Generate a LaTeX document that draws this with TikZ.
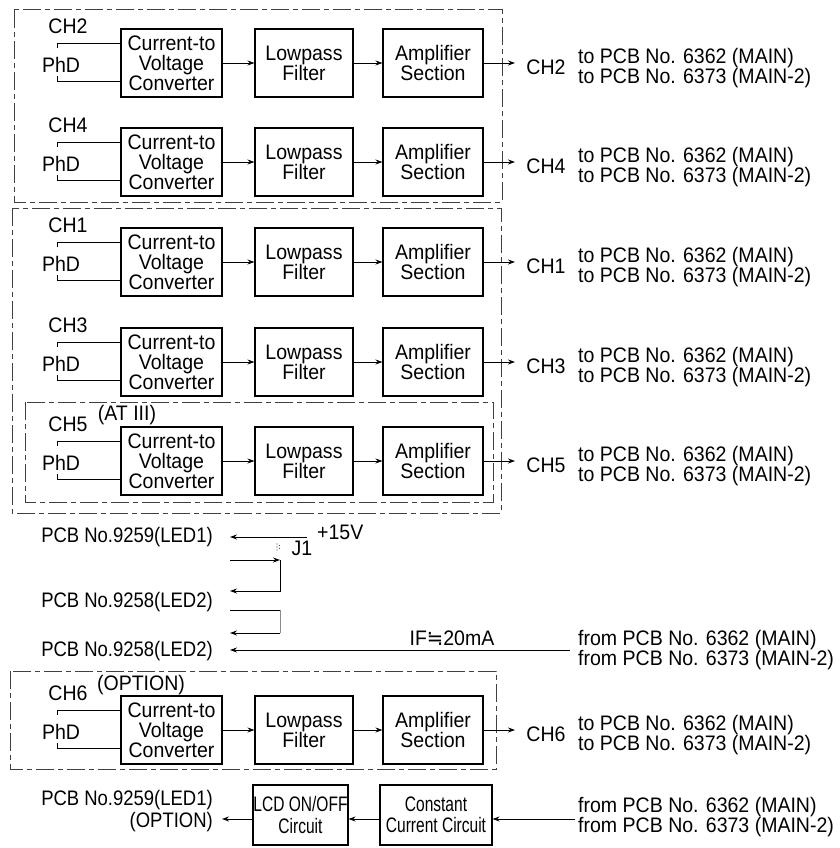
\documentclass[tikz,border=0pt]{standalone}
\usepackage{fontspec}
\setmainfont[FakeStretch=0.93]{Liberation Sans}
\newfontfamily\narrowfont[FakeStretch=0.74]{Liberation Sans}
\newfontfamily\pcbfont[FakeStretch=0.88]{Liberation Sans}
\newfontfamily\symfont[FakeStretch=0.93]{DejaVu Sans}
\usetikzlibrary{arrows.meta}
\tikzset{
  lbl/.style={inner sep=0pt, font={\fontsize{21}{20}\selectfont}, align=center},
  pcb/.style={inner sep=0pt, font={\pcbfont\fontsize{21}{22}\selectfont}, align=right},
  blk/.style={draw, line width=1.1pt, inner sep=0pt, minimum height=68pt, align=center,
              font={\fontsize{21}{20}\selectfont}},
  nblk/.style={draw, line width=1.1pt, inner sep=0pt, minimum height=60pt, align=center,
              font={\narrowfont\fontsize{21}{21.5}\selectfont}},
  arr/.style={-{Stealth[length=7pt,width=5pt]}, line width=0.9pt},
  wire/.style={line width=0.9pt},
  dashbox/.style={draw=black!75, line width=1pt, dash pattern=on 18pt off 4pt on 5pt off 4pt}
}
\begin{document}
\begin{tikzpicture}[x=1pt,y=-1pt]
\fill[white] (0,0) rectangle (839,848);
\useasboundingbox (0,0) rectangle (839,848);

% group frames
\draw[dashbox] (14,10) rectangle (502,202);
\draw[dashbox] (12,208) rectangle (501,513);
\draw[dashbox] (25,402) rectangle (493,502);
\draw[dashbox] (10,671) rectangle (496,769);

% channel rows
\foreach \yc/\ch in {63/2,162/4,262/1,362/3,461/5,730/6}{
  \node[blk, minimum width=101pt] (cv\ch) at (171.5,\yc) {Current-to\\Voltage\\Converter};
  \node[blk, minimum width=98pt] (lp\ch) at (304,\yc) {Lowpass\\Filter};
  \node[blk, minimum width=100pt] (am\ch) at (433,\yc) {Amplifier\\Section};
  \node[lbl] (chl\ch) at (68,\yc-37) {CH\ch};
  \node[lbl] (phd\ch) at (61,\yc+2) {PhD};
  \coordinate (pt\ch) at (57,\yc-20);
  \coordinate (pb\ch) at (57,\yc+18);
  \draw[wire] (cv\ch.west |- pt\ch) -- (pt\ch) -- ++(0,5);
  \draw[wire] (cv\ch.west |- pb\ch) -- (pb\ch) -- ++(0,-5);
  \draw[arr] (cv\ch) -- (lp\ch);
  \draw[arr] (lp\ch) -- (am\ch);
  \coordinate (o\ch) at (515,\yc);
  \draw[arr] (am\ch) -- (o\ch);
  \node[lbl] (cho\ch) at (546,\yc+4) {CH\ch};
  \node[lbl, anchor=west, align=left] (to\ch) at (578,\yc+5)
     {to PCB No. 6362 (MAIN)\\to PCB No. 6373 (MAIN-2)};
}
\node[lbl] (at3) at (127,415) {(AT III)};
\node[lbl] (opt6) at (141,685) {(OPTION)};

% LED supply section
\node[pcb, anchor=east] (led1) at (213,537) {PCB No.9259(LED1)};
\node[pcb, anchor=east] (led2a) at (213,602) {PCB No.9258(LED2)};
\node[pcb, anchor=east] (led2b) at (213,651) {PCB No.9258(LED2)};
\node[lbl, anchor=west] (p15) at (317,532) {+15V};
\node[lbl] (j1) at (302,548) {J1};
\foreach \dx/\dy in {0/-3,0/0,0/3,2.5/-1.5,2.5/1.5}{
  \fill[black!70] (277+\dx,547+\dy) circle (0.7pt);
}
\coordinate (s15) at (307,537);
\coordinate (t1) at (230,537);
\draw[arr] (s15) -- (t1);
\coordinate (jA) at (230,560);
\coordinate (jB) at (280,560);
\coordinate (jC) at (280,591);
\coordinate (jD) at (230,591);
\draw[arr] (jA) -- (jB);
\draw[arr] (jB) -- (jC) -- (jD);
\coordinate (kA) at (230,610);
\coordinate (kB) at (280,610);
\coordinate (kC) at (280,633);
\coordinate (kD) at (230,633);
\draw[wire] (kA) -- (kB);
\draw[wire, black!45] (kB) -- (kC);
\draw[arr] (kC) -- (kD);
\coordinate (ifs) at (570,650);
\coordinate (ife) at (230,650);
\draw[arr] (ifs) -- (ife);
\node[lbl] (ifl) at (452,638) {IF{\symfont ≒}20mA};
\node[lbl, anchor=west, align=left] (from1) at (578,650)
   {from PCB No. 6362 (MAIN)\\from PCB No. 6373 (MAIN-2)};

% LCD section
\node[nblk, minimum width=95pt] (lcd) at (300.5,815) {LCD ON/OFF\\Circuit};
\node[nblk, minimum width=112pt] (cc) at (436,815) {Constant\\Current Circuit};
\node[pcb, anchor=east] (led1o) at (213,811) {PCB No.9259(LED1)\\(OPTION)};
\node[lbl, anchor=west, align=left] (from2) at (578,817)
   {from PCB No. 6362 (MAIN)\\from PCB No. 6373 (MAIN-2)};
\coordinate (fb) at (575,819);
\coordinate (lo) at (222,819);
\draw[arr] (fb) -- (fb -| cc.east);
\draw[arr] (cc.west |- fb) -- (fb -| lcd.east);
\draw[arr] (lcd.west |- fb) -- (lo);
\end{tikzpicture}
\end{document}
